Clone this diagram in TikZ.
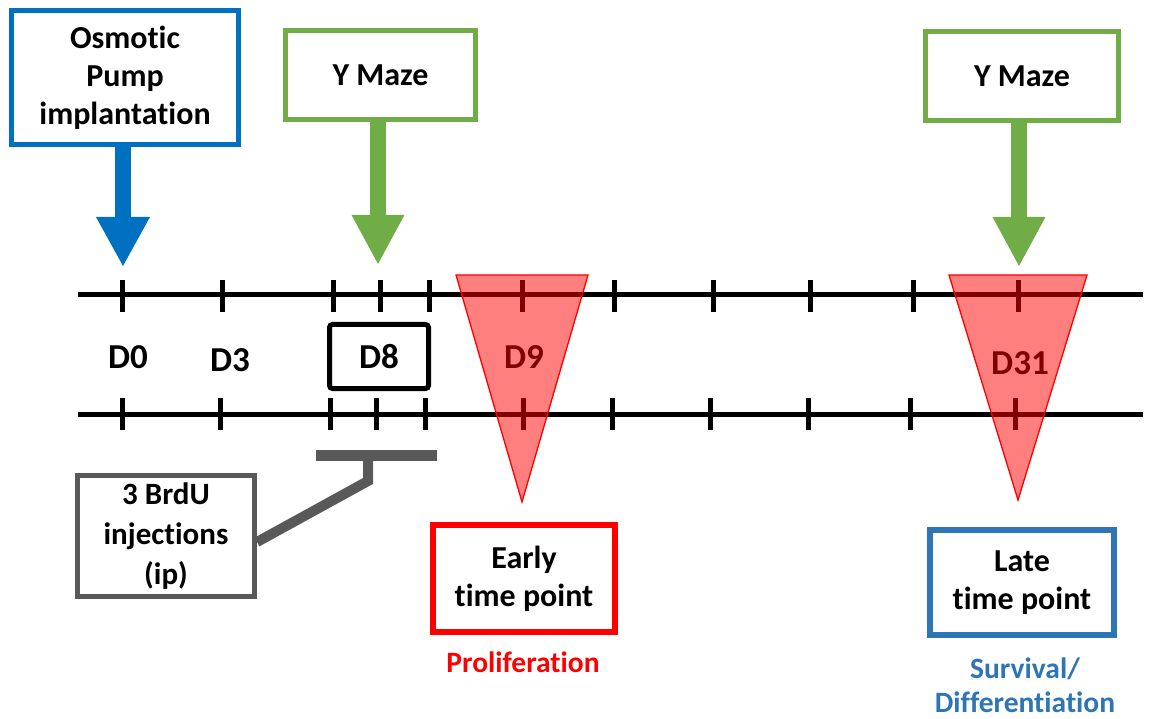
\documentclass[tikz,border=0pt]{standalone}
\usepackage{fontspec}
\setmainfont{Carlito}[RawFeature=-liga]
\usetikzlibrary{arrows.meta}
\definecolor{pumpblue}{HTML}{0070C0}
\definecolor{mazegreen}{HTML}{70AD47}
\definecolor{brdugray}{HTML}{595959}
\definecolor{lateblue}{HTML}{2E75B6}
\newcommand\fsz[2]{\fontsize{#1}{#2}\selectfont}
\tikzset{
  box/.style={draw, line width=5pt, inner sep=0pt, align=center, font=\fsz{32}{38}\bfseries},
  daylabel/.style={inner sep=0pt, font=\fsz{35}{40}\bfseries},
  sublabel/.style={inner sep=0pt, align=center, font=\fsz{29.5}{34}\bfseries},
  timeline/.style={line width=5pt},
  tick/.style={line width=5pt},
  bigarrow/.style={line width=16pt, -{Triangle[width=50pt,length=50pt]}},
  window/.style={fill=red, fill opacity=0.5},
  windowedge/.style={draw=red, line width=1.3pt, line join=miter},
}
\begin{document}
\begin{tikzpicture}[x=1pt,y=-1pt]
\useasboundingbox (0,0) rectangle (1149,719);
% boxes
\node[box, draw=pumpblue, minimum width=227pt, minimum height=134pt] (osm) at (125,77.5) {Osmotic\\Pump\\implantation};
\node[box, draw=mazegreen, minimum width=190pt, minimum height=89pt] (ym1) at (380.5,75) {Y Maze};
\node[box, draw=mazegreen, minimum width=193pt, minimum height=89pt] (ym2) at (1022,76) {Y Maze};
\node[box, draw=black, rounded corners=3pt, minimum width=99pt, minimum height=64pt, font=\fsz{35}{40}\bfseries] (d8) at (379,356.5) {D8};
\node[box, draw=brdugray, minimum width=177pt, minimum height=121pt, font=\fsz{31}{40}\bfseries] (brdu) at (166,536) {3 BrdU\\injections\\(ip)};
\node[box, draw=red, line width=6pt, minimum width=182pt, minimum height=107pt] (early) at (524,578.5) {Early\\time point};
\node[box, draw=lateblue, line width=6pt, minimum width=184pt, minimum height=105pt] (late) at (1022,582.5) {Late\\time point};
\node[sublabel, text=red] (prolif) at (523,662) {Proliferation};
\node[sublabel, text=lateblue] (surv) at (1025,685) {Survival/\\Differentiation};
% day labels
\node[daylabel] (d0) at (128,357) {D0};
\node[daylabel] (d3) at (230,360) {D3};
\node[daylabel] (d9) at (524,357) {D9};
\node[daylabel] (d31) at (1020,363) {D31};
% timelines
\coordinate (tl1a) at (78,295); \coordinate (tl1b) at (1143,295);
\coordinate (tl2a) at (78,414); \coordinate (tl2b) at (1143,414);
\draw[timeline] (tl1a) -- (tl1b);
\draw[timeline] (tl2a) -- (tl2b);
\foreach \x in {122,222,333,380,429,522,614,713,810,913,1018}
  \draw[tick] (\x,280) -- (\x,312);
\foreach \x in {122,220,330,376,425,523,612,710,808,910,1015}
  \draw[tick] (\x,398) -- (\x,430);
% arrows
\coordinate (a0) at (123,267);
\coordinate (a8) at (378,265);
\coordinate (a31) at (1019,267);
\draw[bigarrow, pumpblue] (osm.south -| a0) -- (a0);
\draw[bigarrow, mazegreen, -{Triangle[width=49pt,length=50pt]}] (ym1.south -| a8) -- (a8);
\draw[bigarrow, mazegreen, -{Triangle[width=49pt,length=50pt]}] (ym2.south -| a31) -- (a31);
% BrdU bracket
\coordinate (bra) at (316,455); \coordinate (brb) at (437,455); \coordinate (brm) at (368,455);
\draw[brdugray, line width=11pt] (bra) -- (brb);
\draw[brdugray, line width=10pt, line join=miter] (brm) -- ++(0,26) -- ([yshift=-6pt]brdu.east);
% time windows
\coordinate (w9a) at (456,275); \coordinate (w9b) at (588,275); \coordinate (w9c) at (522,502);
\coordinate (w31a) at (949,275); \coordinate (w31b) at (1087,275); \coordinate (w31c) at (1018,500);
\fill[window] (w9a) -- (w9b) -- (w9c) -- cycle;
\draw[windowedge] (w9a) -- (w9b) -- (w9c) -- cycle;
\fill[window] (w31a) -- (w31b) -- (w31c) -- cycle;
\draw[windowedge] (w31a) -- (w31b) -- (w31c) -- cycle;
\end{tikzpicture}
\end{document}
